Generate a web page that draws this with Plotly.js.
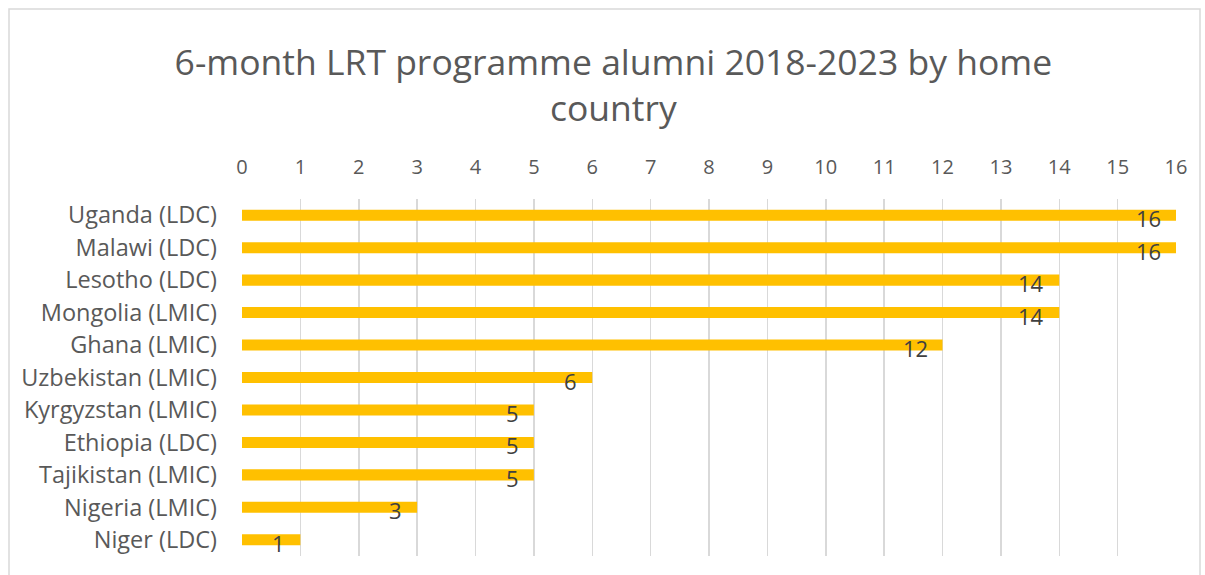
<!DOCTYPE html>
<html>
<head>
<meta charset="utf-8">
<script src="https://cdn.plot.ly/plotly-3.0.1.min.js"></script>
<style>
  html, body { margin: 0; padding: 0; background: #fff; }
  #graph { width: 1205px; height: 575px; }
</style>
</head>
<body>
<div id="graph"></div>
<script>
// alumni per home country, top to bottom as in the chart
var countries = ['Uganda (LDC)', 'Malawi (LDC)', 'Lesotho (LDC)', 'Mongolia (LMIC)', 'Ghana (LMIC)',
    'Uzbekistan (LMIC)', 'Kyrgyzstan (LMIC)', 'Ethiopia (LDC)', 'Tajikistan (LMIC)', 'Nigeria (LMIC)', 'Niger (LDC)'];
var alumni = [16, 16, 14, 14, 12, 6, 5, 5, 5, 3, 1];
var xTicks = [0, 1, 2, 3, 4, 5, 6, 7, 8, 9, 10, 11, 12, 13, 14, 15, 16];

var textGrey = '#595959';
var fontFam = '"Open Sans", "Noto Sans", sans-serif';

var bars = {
    type: 'bar',
    orientation: 'h',
    x: alumni,
    y: countries,
    width: 0.34,
    marker: { color: '#FFC000' },
    hoverinfo: 'x+y'
};

// data labels sit just inside the end of each bar, a bit low like Excel's
var labels = alumni.map(function (v, i) {
    return {
        x: v, y: countries[i], xref: 'x', yref: 'y',
        text: String(v), showarrow: false,
        xanchor: 'right', xshift: -13, yshift: -3,
        font: { family: fontFam, size: 22, color: '#404040' }
    };
});

var layout = {
    width: 1205,
    height: 575,
    paper_bgcolor: '#ffffff',
    plot_bgcolor: '#ffffff',
    font: { family: fontFam, color: textGrey },
    showlegend: false,
    margin: { l: 242, r: 29, t: 199, b: 19, pad: 0, autoexpand: false },
    title: {
        text: '6-month LRT programme alumni 2018-2023 by home<br>country',
        font: { family: fontFam, size: 35.5, color: textGrey },
        xref: 'container', x: 0.509, xanchor: 'center',
        yref: 'container', y: 0.87, yanchor: 'top'
    },
    xaxis: {
        side: 'top',
        range: [0, 16],
        tickvals: xTicks,
        showgrid: true,
        gridcolor: '#d9d9d9',
        gridwidth: 1.5,
        zeroline: false,
        showline: false,
        ticks: '',
        ticklabelstandoff: 20,
        automargin: false,
        tickfont: { family: fontFam, size: 20, color: textGrey },
        fixedrange: true
    },
    yaxis: {
        range: [countries.length - 0.5, -0.5],
        showgrid: false,
        zeroline: false,
        showline: false,
        ticks: '',
        ticklabelstandoff: 24,
        automargin: false,
        tickfont: { family: fontFam, size: 23.5, color: textGrey },
        fixedrange: true
    },
    annotations: labels,
    shapes: [{
        type: 'rect', xref: 'paper', yref: 'paper',
        x0: (9 - 242) / 934, x1: (1200 - 242) / 934,
        y0: -0.2, y1: 1 + (199 - 9) / 357,
        line: { color: '#d9d9d9', width: 1.5 },
        fillcolor: 'rgba(0,0,0,0)', layer: 'below'
    }]
};

Plotly.newPlot('graph', [bars], layout, { displayModeBar: false, staticPlot: true });
</script>
</body>
</html>
